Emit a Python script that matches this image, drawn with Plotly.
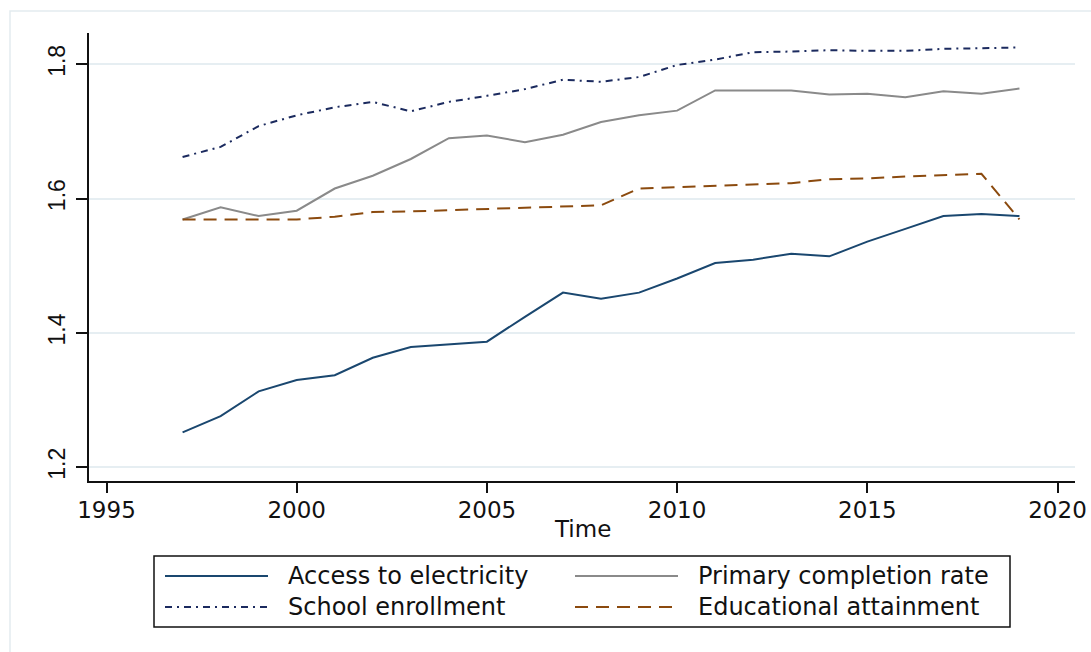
import plotly.graph_objects as go

# Indicator values by year (index scale)
years = list(range(1997, 2020))
access_electricity = [1.252, 1.276, 1.313, 1.330, 1.337, 1.363, 1.379, 1.383, 1.387, 1.424,
                      1.460, 1.451, 1.460, 1.481, 1.504, 1.509, 1.518, 1.514, 1.536, 1.555,
                      1.574, 1.577, 1.574]
primary_completion = [1.569, 1.587, 1.574, 1.582, 1.615, 1.634, 1.659, 1.690, 1.694, 1.684,
                      1.695, 1.714, 1.724, 1.731, 1.761, 1.761, 1.761, 1.755, 1.756, 1.751,
                      1.760, 1.756, 1.764]
school_enrollment = [1.662, 1.677, 1.708, 1.724, 1.736, 1.744, 1.730, 1.744, 1.753, 1.763,
                     1.777, 1.774, 1.781, 1.799, 1.807, 1.818, 1.819, 1.821, 1.820, 1.820,
                     1.823, 1.824, 1.825]
educational_attainment = [1.569, 1.569, 1.569, 1.569, 1.573, 1.580, 1.581, 1.583, 1.584, 1.586,
                          1.588, 1.590, 1.615, 1.617, 1.619, 1.621, 1.623, 1.629, 1.630, 1.633,
                          1.635, 1.637, 1.569]

x_ticks = [1995, 2000, 2005, 2010, 2015, 2020]
y_ticks = [1.2, 1.4, 1.6, 1.8]
y_tick_labels = ["1.2", "1.4", "1.6", "1.8"]

series = [
    ("Access to electricity", access_electricity, "#1a476f", "solid"),
    ("Primary completion rate", primary_completion, "#8a8a8a", "solid"),
    ("School enrollment", school_enrollment, "#1b2a5e", "7px,5px,2px,5px"),
    ("Educational attainment", educational_attainment, "#8b4a0e", "13px,8px"),
]

W, H = 1091, 652
L, R, T, B = 89, 16, 33, 171
pw, ph = W - L - R, H - T - B

def px_x(p):
    return (p - L) / pw

def px_y(p):
    return (H - B - p) / ph

fig = go.Figure()
for name, vals, color, dash in series:
    fig.add_trace(go.Scatter(
        x=years, y=vals, mode="lines", name=name, showlegend=False,
        line=dict(color=color, width=2, dash=dash),
    ))

shapes = []
# light outer frame of the graph region
shapes.append(dict(type="rect", xref="paper", yref="paper",
                   x0=px_x(10), x1=px_x(W + 10), y0=px_y(H + 10), y1=px_y(11),
                   line=dict(color="#e3ebef", width=1.5), fillcolor="rgba(0,0,0,0)", layer="below"))

# legend box
lx0, lx1, ly0, ly1 = 154, 1010, 556, 627
shapes.append(dict(type="rect", xref="paper", yref="paper",
                   x0=px_x(lx0), x1=px_x(lx1), y0=px_y(ly1), y1=px_y(ly0),
                   line=dict(color="#111111", width=1.5), fillcolor="white"))

legend_cells = [
    (165, 268, 286, 576),
    (575, 678, 696, 576),
    (165, 268, 286, 607),
    (575, 678, 696, 607),
]
annotations = []
for (name, _, color, dash), (sx0, sx1, tx, yy) in zip(series, legend_cells):
    shapes.append(dict(type="line", xref="paper", yref="paper",
                       x0=px_x(sx0), x1=px_x(sx1), y0=px_y(yy), y1=px_y(yy),
                       line=dict(color=color, width=2, dash=dash)))
    annotations.append(dict(text=name, xref="paper", yref="paper",
                            x=px_x(tx), y=px_y(yy), xanchor="left", yanchor="middle",
                            showarrow=False,
                            font=dict(family="DejaVu Sans", size=24, color="#111111")))

# x-axis title
annotations.append(dict(text="Time", xref="paper", yref="paper",
                        x=0.5, y=px_y(529), xanchor="center", yanchor="middle",
                        showarrow=False,
                        font=dict(family="DejaVu Sans", size=23, color="#111111")))

fig.update_layout(
    width=W, height=H,
    margin=dict(l=L, r=R, t=T, b=B, autoexpand=False),
    paper_bgcolor="white", plot_bgcolor="white",
    shapes=shapes, annotations=annotations,
    showlegend=False,
    xaxis=dict(
        range=[1994.54, 2020.46], tickvals=x_ticks, ticktext=[str(v) for v in x_ticks],
        showgrid=False, zeroline=False, showline=True, linecolor="#111111", linewidth=1.5,
        ticks="outside", ticklen=10, tickwidth=1.5, tickcolor="#111111",
        ticklabelstandoff=-2,
        tickfont=dict(family="DejaVu Sans", size=23, color="#111111"),
        automargin=False,
    ),
    yaxis=dict(
        range=[1.1795, 1.8466], tickvals=y_ticks, ticktext=y_tick_labels, tickangle=-90,
        showgrid=True, gridcolor="#e6eef2", gridwidth=1.5,
        zeroline=False, showline=True, linecolor="#111111", linewidth=1.5,
        ticks="outside", ticklen=11, tickwidth=1.5, tickcolor="#111111",
        ticklabelstandoff=2,
        tickfont=dict(family="Liberation Sans", size=23, color="#111111"),
        automargin=False,
    ),
)

fig.write_html("out.html")
